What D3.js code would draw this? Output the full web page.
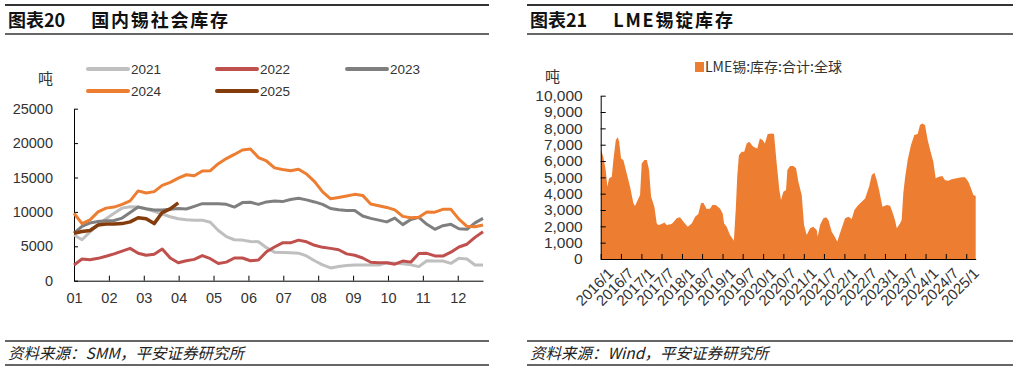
<!DOCTYPE html>
<html>
<head>
<meta charset="utf-8">
<script src="https://d3js.org/d3.v7.min.js"></script>
<style>
  body { margin: 0; background: #fff; }
  text { font-family: "Liberation Sans", Arial, "Noto Sans CJK SC", sans-serif; }
  .cjk { font-family: "Noto Sans CJK SC", "Liberation Sans", sans-serif; }
</style>
</head>
<body>
<svg id="chart" width="1017" height="371"></svg>
<script>
// ---- left: 国内锡社会库存 (weekly, tonnes)
const monthLabels = ["01","02","03","04","05","06","07","08","09","10","11","12"];
const years = ["2021","2022","2023","2024","2025"];
const colors = ["#bfbfbf","#c0504d","#7f7f7f","#ed7d31","#843c0c"];

const s2021 = [6640,5950,7100,8100,9000,9800,10550,10750,10700,10400,10100,9700,9300,9000,8850,8800,8800,8500,7300,6400,5950,5900,5700,5670,4800,4150,4100,4050,4000,3600,2900,2300,1850,2050,2200,2280,2280,2280,2280,2600,2520,2450,2300,2050,2900,2880,2860,2520,3250,3150,2280,2280];
const s2022 = [2280,3150,3050,3250,3550,3900,4300,4700,4000,3700,3850,4600,3300,2600,2900,3100,3650,3200,2500,2700,3300,3300,2900,3000,4200,4900,5500,5500,5900,5650,5150,4850,4700,4500,3900,3700,3300,2680,2620,2620,2400,2850,2700,3950,3980,3600,3580,4150,4900,5300,6300,7120];
const s2023 = [6900,7900,8400,8600,8700,8750,9100,9900,10700,10450,10270,10270,10400,10500,10420,10800,11200,11200,11200,11100,10700,11350,11400,11100,11450,11580,11500,11800,11970,11750,11450,11100,10500,10300,10200,10200,9400,9060,8800,8550,9100,8150,8900,9210,8200,7470,8000,8190,7550,7470,8400,9060];
const s2024 = [9800,8300,8850,10000,10550,10700,11100,11600,13050,12750,12950,13850,14300,14900,15400,15250,15950,15990,17000,17750,18350,19000,19150,17900,17400,16400,16150,15990,16200,15500,14400,12900,11900,12100,12300,12550,12400,11150,10900,10650,10300,9350,9150,9220,10000,9960,10370,10370,8950,7900,7850,8090];
const s2025 = [6900,7150,7300,8100,8230,8240,8300,8550,9150,9000,8300,9900,10450,11300];
const seriesL = [s2021, s2022, s2023, s2024, s2025];

// ---- right: LME锡:库存:合计:全球
const lmeDates = ["2016-01-04","2016-01-24","2016-02-15","2016-03-01","2016-03-16","2016-04-10","2016-04-24","2016-05-16","2016-06-03","2016-06-15","2016-07-02","2016-07-23","2016-08-22","2016-09-21","2016-10-21","2016-11-05","2016-11-29","2016-12-20","2017-01-04","2017-01-28","2017-02-19","2017-03-11","2017-03-29","2017-04-28","2017-05-19","2017-06-03","2017-07-03","2017-07-27","2017-08-17","2017-10-01","2017-11-15","2017-12-14","2018-01-22","2018-02-22","2018-03-30","2018-04-29","2018-05-28","2018-06-21","2018-07-12","2018-08-11","2018-09-10","2018-10-01","2018-10-31","2018-12-09","2019-01-02","2019-01-15","2019-02-07","2019-03-09","2019-04-13","2019-05-01","2019-05-13","2019-05-28","2019-06-22","2019-07-15","2019-08-06","2019-08-29","2019-10-04","2019-11-09","2019-12-03","2019-12-27","2020-01-17","2020-02-11","2020-03-18","2020-04-08","2020-05-02","2020-05-26","2020-06-10","2020-07-01","2020-07-25","2020-08-06","2020-08-30","2020-09-29","2020-10-23","2020-11-13","2020-12-13","2021-01-03","2021-01-27","2021-02-26","2021-03-27","2021-04-27","2021-05-06","2021-05-27","2021-06-26","2021-07-20","2021-08-10","2021-09-09","2021-10-09","2021-10-29","2021-11-22","2022-01-07","2022-02-06","2022-03-08","2022-04-01","2022-05-06","2022-06-06","2022-07-06","2022-08-11","2022-09-04","2022-09-28","2022-10-19","2022-11-09","2022-12-09","2023-01-17","2023-02-16","2023-03-08","2023-04-01","2023-04-17","2023-05-16","2023-05-31","2023-06-15","2023-06-30","2023-07-24","2023-08-23","2023-09-22","2023-10-22","2023-11-12","2023-12-02","2023-12-27","2024-01-20","2024-02-19","2024-03-11","2024-04-01","2024-05-01","2024-05-31","2024-06-24","2024-07-24","2024-08-23","2024-10-07","2024-11-21","2024-12-21","2025-01-20","2025-02-13","2025-03-06","2025-03-27"];
const lmeValues = [6670,6260,5450,4430,4940,5040,6060,7280,7450,7180,6160,6060,5240,4430,3410,3240,3610,3920,5850,6060,6060,5450,3810,3200,2180,2080,2140,2240,2080,2140,2490,2550,2220,1980,2180,2590,2750,3410,3450,3060,3080,3300,3300,3100,2790,2180,1980,1470,1120,3200,5040,6360,6570,6570,7080,7180,6870,6770,7380,7280,7080,7650,7690,7650,5850,4220,3610,4120,4220,5450,5690,5690,5550,4730,3920,2080,1470,1880,1980,1770,1370,2080,2490,2550,2390,1670,1330,1060,1570,2490,2590,2450,3000,3300,3510,3710,4430,5140,5280,4830,4220,3200,3300,3260,2900,2390,1880,2180,2390,4020,4940,6060,6980,7590,7650,8200,8300,8200,7280,6470,5960,4940,5040,5080,4830,4790,4880,4940,5000,5000,4730,4320,3920,3860];

const svg = d3.select("#chart");

// header / footer rules and titles
function frame(x0, x1, num, title, source) {
    svg.append("line").attr("x1", x0).attr("x2", x1).attr("y1", 5).attr("y2", 5)
        .attr("stroke", "#333").attr("stroke-width", 2);
    svg.append("line").attr("x1", x0).attr("x2", x1).attr("y1", 34).attr("y2", 34)
        .attr("stroke", "#333").attr("stroke-width", 1.5);
    const t = svg.append("text").attr("class", "cjk").attr("x", x0 + 3).attr("y", 26.5)
        .attr("font-size", 18).attr("font-weight", "bold").attr("fill", "#111");
    t.append("tspan").text(num);
    t.append("tspan").attr("dx", 26).attr("letter-spacing", 1.8).text(title);
    svg.append("line").attr("x1", x0).attr("x2", x1).attr("y1", 341).attr("y2", 341)
        .attr("stroke", "#333").attr("stroke-width", 1.5);
    svg.append("line").attr("x1", x0).attr("x2", x1).attr("y1", 365).attr("y2", 365)
        .attr("stroke", "#333").attr("stroke-width", 1.5);
    svg.append("text").attr("class", "cjk").attr("x", x0 + 3).attr("y", 358.5)
        .attr("font-size", 15.5).attr("font-style", "italic").attr("fill", "#222")
        .text(source);
}
frame(5, 489, "图表20", "国内锡社会库存", "资料来源：SMM，平安证券研究所");
frame(527, 1013, "图表21", "LME锡锭库存", "资料来源：Wind，平安证券研究所");

// ---------------- left chart
const xL = d3.scaleLinear().domain([0, 51]).range([74, 483]);
const yL = d3.scaleLinear().domain([0, 25000]).range([280.7, 108.7]);
const monthPos = monthLabels.map((m, i) => i * 4.35);

const gL = svg.append("g");
gL.append("g").attr("transform", "translate(74,0)")
    .call(d3.axisLeft(yL).tickValues(d3.range(0, 25001, 5000)).tickFormat(d3.format("d"))
        .tickSizeInner(-4).tickSizeOuter(0).tickPadding(21))
    .call(g => g.selectAll("text").attr("font-size", 14.5).attr("fill", "#333"));
gL.append("g").attr("transform", "translate(0,280.7)")
    .call(d3.axisBottom(xL).tickValues(monthPos).tickFormat((d, i) => monthLabels[i])
        .tickSizeInner(-5).tickSizeOuter(0).tickPadding(12))
    .call(g => g.selectAll("text").attr("font-size", 14.5).attr("fill", "#333"));
gL.selectAll(".domain, .tick line").attr("stroke", "#000");

const lineL = d3.line().x((d, i) => xL(i)).y(d => yL(d)).curve(d3.curveLinear);
seriesL.forEach((s, k) => {
    gL.append("path").datum(s).attr("d", lineL).attr("fill", "none")
        .attr("stroke", colors[k]).attr("stroke-width", k === 4 ? 3.5 : 3)
        .attr("stroke-linejoin", "round");
});

svg.append("text").attr("class", "cjk").attr("x", 38).attr("y", 84)
    .attr("font-size", 15).attr("fill", "#333").text("吨");

// legend
const legPos = [[88, 69], [217, 69], [347, 69], [88, 91], [217, 91]];
years.forEach((y, k) => {
    const [lx, ly] = legPos[k];
    svg.append("line").attr("x1", lx).attr("x2", lx + 40).attr("y1", ly).attr("y2", ly)
        .attr("stroke", colors[k]).attr("stroke-width", 4).attr("stroke-linecap", "round");
    svg.append("text").attr("x", lx + 43).attr("y", ly + 5)
        .attr("font-size", 13.5).attr("fill", "#333").text(y);
});

// ---------------- right chart
const parse = d3.timeParse("%Y-%m-%d");
const lme = lmeDates.map((d, i) => ({ date: parse(d), v: lmeValues[i] }));
const xR = d3.scaleTime().domain([new Date(2016, 0, 1), new Date(2025, 2, 27)]).range([600.7, 975.7]);
const yR = d3.scaleLinear().domain([0, 10000]).range([259, 95.7]);

const gR = svg.append("g");
gR.append("path").datum(lme)
    .attr("d", d3.area().x(d => xR(d.date)).y0(yR(0)).y1(d => yR(d.v)))
    .attr("fill", "#ed7d31");

gR.append("g").attr("transform", "translate(600.7,0)")
    .call(d3.axisLeft(yR).tickValues(d3.range(0, 10001, 1000)).tickFormat(d3.format(","))
        .tickSizeInner(-5).tickSizeOuter(0).tickPadding(18))
    .call(g => g.selectAll("text").attr("font-size", 15.5).attr("fill", "#333"));

const halfYears = d3.range(0, 19).map(i => new Date(2016 + Math.floor(i / 2), (i % 2) * 6, 1));
gR.append("g").attr("transform", "translate(0,259)")
    .call(d3.axisBottom(xR).tickValues(halfYears).tickFormat(d3.timeFormat("%Y/%-m"))
        .tickSizeInner(-5).tickSizeOuter(0).tickPadding(6))
    .call(g => g.selectAll("text").attr("font-size", 15).attr("fill", "#333")
        .attr("text-anchor", "end").attr("dx", "-0.1em").attr("dy", "0.95em")
        .attr("transform", "rotate(-45)"));
gR.selectAll(".domain, .tick line").attr("stroke", "#000");

svg.append("text").attr("class", "cjk").attr("x", 545).attr("y", 82)
    .attr("font-size", 15).attr("fill", "#333").text("吨");

svg.append("rect").attr("x", 695).attr("y", 62).attr("width", 9).attr("height", 10).attr("fill", "#ed7d31");
svg.append("text").attr("class", "cjk").attr("x", 705).attr("y", 72)
    .attr("font-size", 14).attr("fill", "#333").text("LME锡:库存:合计:全球");
</script>
</body>
</html>
